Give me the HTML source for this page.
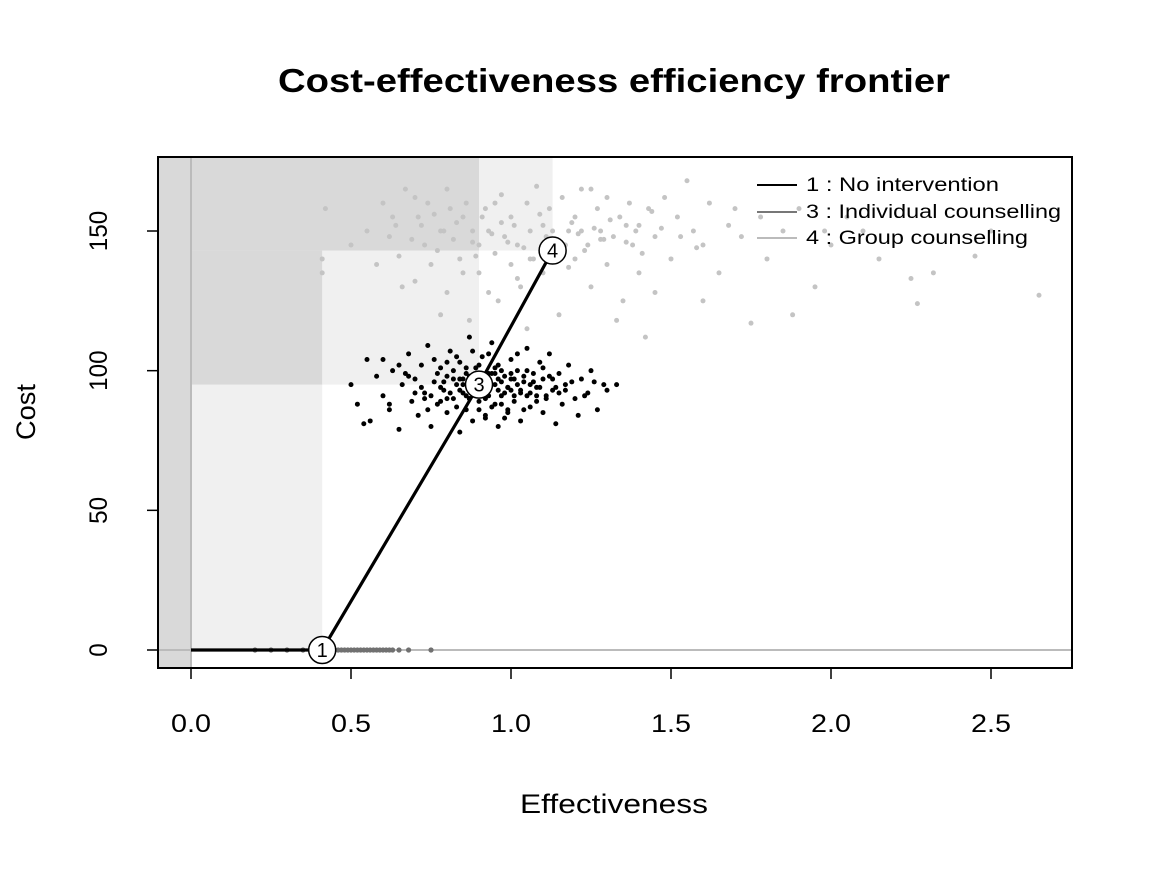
<!DOCTYPE html>
<html><head><meta charset="utf-8"><style>
body{margin:0;background:#fff}
svg text{font-family:"Liberation Sans",Arial,sans-serif}
</style></head><body>
<svg id="c" width="1152" height="865" xmlns="http://www.w3.org/2000/svg">
<text x="614" y="92" font-size="33" font-weight="bold" text-anchor="middle" textLength="672" lengthAdjust="spacingAndGlyphs">Cost-effectiveness efficiency frontier</text>
<g id="shade"></g>
<g id="marks"></g>
<rect x="158" y="157" width="914" height="511" fill="none" stroke="#000" stroke-width="2"/>
<g id="axes"></g>
<text x="614" y="813" font-size="27" text-anchor="middle" textLength="188" lengthAdjust="spacingAndGlyphs">Effectiveness</text>
<text x="0" y="0" font-size="27" text-anchor="middle" textLength="56" lengthAdjust="spacingAndGlyphs" transform="translate(35,412) rotate(-90)">Cost</text>
<g>
<line x1="757" y1="185" x2="797" y2="185" stroke="#000" stroke-width="2"/>
<line x1="757" y1="212" x2="797" y2="212" stroke="#777" stroke-width="2"/>
<line x1="757" y1="238" x2="797" y2="238" stroke="#bbb" stroke-width="2"/>
<text x="806" y="191" font-size="19" textLength="193" lengthAdjust="spacingAndGlyphs">1 : No intervention</text>
<text x="806" y="218" font-size="19" textLength="255" lengthAdjust="spacingAndGlyphs">3 : Individual counselling</text>
<text x="806" y="244" font-size="19" textLength="222" lengthAdjust="spacingAndGlyphs">4 : Group counselling</text>
</g>
</svg>
<script>
const xTicks=[0.0,0.5,1.0,1.5,2.0,2.5];
const xTickLabels=["0.0","0.5","1.0","1.5","2.0","2.5"];
const yTicks=[0,50,100,150];
const yTickLabels=["0","50","100","150"];
const frontierIds=["1","3","4"];
const frontierEff=[0.41,0.9,1.13];
const frontierCost=[0,95,143];
const groupEff=[0.41,0.41,0.42,0.55,0.6,0.62,0.63,0.65,0.66,0.7,0.72,0.73,0.75,0.76,0.78,0.8,0.8,0.82,0.84,0.85,0.86,0.87,0.88,0.9,0.9,0.92,0.93,0.95,0.96,0.97,0.98,1.0,1.0,1.02,1.03,1.05,1.06,1.07,1.08,1.1,1.1,1.12,1.14,1.15,1.16,1.18,1.2,1.2,1.22,1.24,1.25,1.27,1.28,1.3,1.3,1.32,1.34,1.35,1.37,1.38,1.4,1.4,1.42,1.43,1.45,1.48,1.5,1.52,1.55,1.57,1.6,1.62,1.65,1.68,1.7,1.72,1.75,1.78,1.8,1.85,1.88,1.9,1.95,1.98,2.0,2.05,2.1,2.15,2.25,2.27,2.32,2.45,2.65,2.5,0.67,0.5,0.58,0.7,0.78,0.95,1.05,1.15,1.25,1.45,0.85,0.74,1.33,1.6,
0.64,0.69,0.77,0.81,0.83,0.89,0.91,0.94,0.99,1.01,1.04,1.09,1.11,1.13,1.17,1.19,1.21,1.23,1.26,1.29,1.31,1.36,1.39,1.41,1.44,1.47,1.53,1.58,0.71,0.79,0.88,0.97,1.06,1.14,1.22,1.28,1.36,1.18,1.02,0.93];
const groupCost=[135,140,158,150,160,148,155,141,130,162,152,145,138,156,150,128,165,147,140,155,160,118,150,145,135,158,150,142,125,163,148,138,155,145,130,160,150,140,166,152,135,158,147,120,162,150,140,155,165,145,130,158,150,138,162,148,155,125,160,145,152,135,112,158,148,162,140,155,168,150,145,160,135,152,158,148,117,155,140,150,120,158,130,150,145,155,150,140,133,124,135,141,127,150,165,145,138,132,120,160,115,140,165,128,135,160,118,125,
152,147,143,158,153,141,155,149,146,152,144,156,148,150,145,153,149,143,151,147,154,146,150,142,157,151,148,144,155,150,146,153,140,145,150,147,152,137,133,128];
const indivEff=[0.5,0.52,0.55,0.56,0.58,0.6,0.62,0.63,0.65,0.66,0.68,0.69,0.7,0.71,0.72,0.73,0.74,0.75,0.76,0.77,0.78,0.79,0.8,0.8,0.81,0.82,0.83,0.84,0.84,0.85,0.86,0.86,0.87,0.88,0.88,0.89,0.9,0.9,0.91,0.92,0.92,0.93,0.94,0.94,0.95,0.96,0.96,0.97,0.98,0.99,1.0,1.0,1.01,1.02,1.03,1.04,1.05,1.05,1.06,1.07,1.08,1.09,1.1,1.1,1.11,1.12,1.13,1.14,1.15,1.16,1.17,1.18,1.2,1.21,1.22,1.24,1.25,1.27,1.29,1.33,0.54,0.6,0.67,0.7,0.74,0.78,0.82,0.85,0.87,0.89,0.91,0.93,0.95,0.97,0.99,1.01,1.03,1.06,1.08,1.12,1.15,1.19,0.76,0.83,0.9,0.98,1.04,1.1,0.8,0.93,
0.72,0.75,0.77,0.79,0.81,0.82,0.84,0.85,0.86,0.87,0.88,0.89,0.9,0.91,0.92,0.93,0.94,0.95,0.96,0.97,0.98,0.99,1.0,1.01,1.02,1.03,1.04,1.06,1.07,1.09,1.11,1.13,0.8,0.83,0.86,0.88,0.9,0.92,0.95,0.97,1.0,1.02,1.05,0.78,0.84,0.87,0.91,0.94,0.99,1.08,0.68,0.73,0.96,1.14,1.17,0.65,1.23,0.62,1.26,1.3];
const indivCost=[95,88,104,82,98,91,86,100,79,95,106,89,97,84,102,92,109,80,96,88,101,93,85,98,107,90,95,78,103,92,99,86,112,94,82,101,89,97,105,92,84,99,110,87,95,102,80,91,98,86,104,93,89,100,82,96,108,91,87,99,94,103,85,97,90,106,93,81,99,88,95,102,90,84,97,92,100,86,95,95,81,104,99,92,86,94,100,97,90,93,96,91,88,100,94,97,92,95,89,98,92,96,104,87,102,83,86,101,90,106,
94,91,99,96,92,97,93,95,91,98,94,92,96,93,90,97,95,99,93,96,92,94,97,91,95,93,98,92,96,94,91,97,103,105,101,107,86,83,101,88,99,106,100,89,97,90,93,99,85,91,98,90,97,94,93,102,91,88,96,93];
const zeroIndivEff=[0.2,0.25,0.3,0.35,0.38,0.44,0.45,0.46,0.47,0.48,0.49,0.5,0.51,0.52,0.53,0.54,0.55,0.56,0.57,0.58,0.59,0.6,0.61,0.62,0.63,0.65,0.68,0.75];

const X0=158,X1=1072,Y0=157,Y1=668;
const sx=v=>191+v*320;
const sy=v=>650-v*2.7933;
const NS="http://www.w3.org/2000/svg";
function mk(tag,attrs,parent){const e=document.createElementNS(NS,tag);for(const k in attrs)e.setAttribute(k,attrs[k]);parent.appendChild(e);return e;}
const shade=document.getElementById('shade'),marks=document.getElementById('marks'),axes=document.getElementById('axes');

const LIGHT="#f0f0f0",DARK="#d9d9d9";
const e1=sx(frontierEff[0]),e3=sx(frontierEff[1]),e4=sx(frontierEff[2]);
const c1=sy(frontierCost[0]),c3=sy(frontierCost[1]),c4=sy(frontierCost[2]);
let r;
r=mk('rect',{x:sx(0),y:c3,width:e1-sx(0),height:c1-c3,fill:LIGHT},shade);

r=mk('rect',{x:e1,y:c4,width:e3-e1,height:c3-c4,fill:LIGHT},shade);

r=mk('rect',{x:e3,y:Y0,width:e4-e3,height:c4-Y0,fill:LIGHT},shade);

r=mk('rect',{x:X0,y:Y0,width:e3-X0,height:c4-Y0,fill:DARK},shade);

r=mk('rect',{x:X0,y:c4,width:e1-X0,height:c3-c4,fill:DARK},shade);

r=mk('rect',{x:X0,y:Y0,width:sx(0)-X0,height:Y1-Y0,fill:DARK},shade);


let l=mk('line',{x1:sx(0),y1:Y0,x2:sx(0),y2:Y1,stroke:"#bbb","stroke-width":2},marks);

l=mk('line',{x1:X0,y1:sy(0),x2:X1,y2:sy(0),stroke:"#bbb","stroke-width":2},marks);


for(let i=0;i<groupEff.length;i++){const p=mk('circle',{cx:sx(groupEff[i]),cy:sy(groupCost[i]),r:2.5,fill:"#c4c4c4"},marks);

}
for(let i=0;i<zeroIndivEff.length;i++){const p=mk('circle',{cx:sx(zeroIndivEff[i]),cy:sy(0),r:2.6,fill:"#707070"},marks);

}
for(let i=0;i<indivEff.length;i++){const p=mk('circle',{cx:sx(indivEff[i]),cy:sy(indivCost[i]),r:2.5,fill:"#000"},marks);

}

let pts=[[sx(0),sy(0)]];for(let i=0;i<frontierEff.length;i++)pts.push([sx(frontierEff[i]),sy(frontierCost[i])]);
const fl=mk('polyline',{points:pts.map(p=>p.join(',')).join(' '),fill:"none",stroke:"#000","stroke-width":3.2},marks);


for(let i=0;i<frontierEff.length;i++){
 const g=mk('g',{},marks);
 
 
 mk('circle',{cx:sx(frontierEff[i]),cy:sy(frontierCost[i]),r:13.5,fill:"#fff",stroke:"#000","stroke-width":1.5},g);
 const t=mk('text',{x:sx(frontierEff[i]),y:sy(frontierCost[i])+7,"font-size":20,"text-anchor":"middle"},g);t.textContent=frontierIds[i];
}

for(let i=0;i<xTicks.length;i++){const x=sx(xTicks[i]);
 const t=mk('line',{x1:x,y1:Y1,x2:x,y2:Y1+11,stroke:"#000","stroke-width":1.5},axes);
 
 
 const tx=mk('text',{x:x,y:Y1+64,"font-size":25,"text-anchor":"middle",textLength:40,lengthAdjust:"spacingAndGlyphs"},axes);tx.textContent=xTickLabels[i];
 
 }
mk('line',{x1:sx(0),y1:Y1,x2:sx(2.5),y2:Y1,stroke:"#000","stroke-width":1.5},axes);
for(let i=0;i<yTicks.length;i++){const y=sy(yTicks[i]);
 const t=mk('line',{x1:X0-11,y1:y,x2:X0,y2:y,stroke:"#000","stroke-width":1.5},axes);
 
 
 const tx=mk('text',{x:0,y:0,"font-size":25,"text-anchor":"middle",textLength:yTickLabels[i].length*13.5,lengthAdjust:"spacingAndGlyphs",transform:`translate(107,${y}) rotate(-90)`},axes);tx.textContent=yTickLabels[i];
 
 }
</script>
</body></html>
